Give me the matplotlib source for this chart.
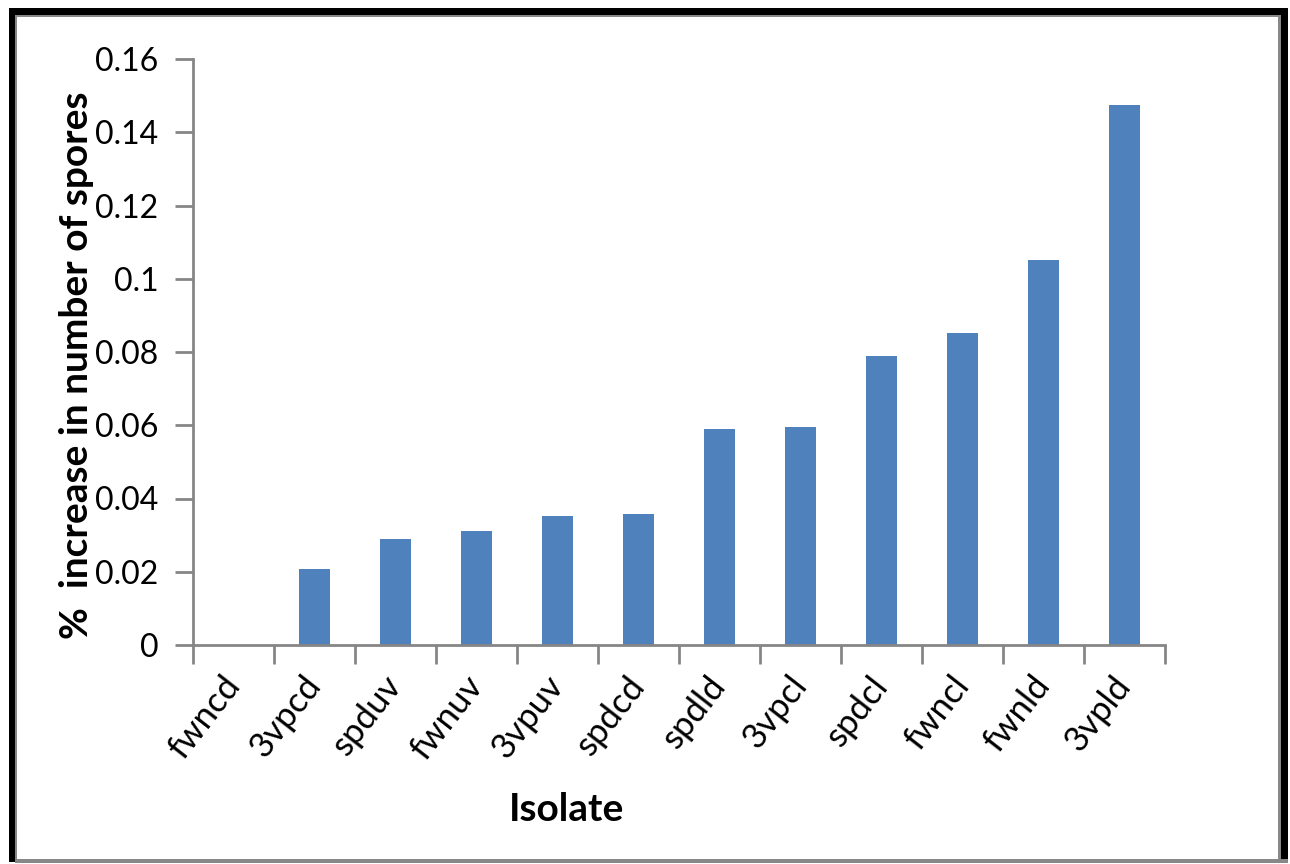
import numpy as np
import matplotlib
matplotlib.use("Agg")
from matplotlib import pyplot as plt
from matplotlib.patches import Rectangle

isolates = ['fwncd', '3vpcd', 'spduv', 'fwnuv', '3vpuv', 'spdcd',
            'spdld', '3vpcl', 'spdcl', 'fwncl', 'fwnld', '3vpld']
increase = [0.0, 0.0207, 0.0289, 0.0311, 0.0352, 0.0358,
            0.0590, 0.0595, 0.0789, 0.0852, 0.1051, 0.1474]
yticks = [0, 0.02, 0.04, 0.06, 0.08, 0.1, 0.12, 0.14, 0.16]
ytick_labels = ['0', '0.02', '0.04', '0.06', '0.08', '0.1', '0.12', '0.14', '0.16']

plt.rcParams['font.family'] = ['Lato', 'DejaVu Sans']
W, H = 1290, 864
fig = plt.figure(figsize=(W / 100, H / 100), dpi=100)
ax = fig.add_axes([193 / W, 1 - 645 / H, (1165 - 193) / W, (645 - 59) / H])

x = np.arange(len(isolates))
ax.bar(x, increase, width=0.39, color='#4F81BD', zorder=2)

ax.set_xlim(-0.5, len(isolates) - 0.5)
ax.set_ylim(0, 0.16)
ax.set_yticks(yticks)
ax.set_yticklabels(ytick_labels, fontsize=23)
ax.set_xticks(x)
ax.set_xticklabels(isolates, rotation=52, ha='right', va='center',
                   rotation_mode='anchor', fontsize=25)
ax.set_xticks(np.arange(-0.5, len(isolates)), minor=True)
ax.tick_params(axis='x', which='major', length=0, pad=25)
ax.tick_params(axis='x', which='minor', length=14, width=2, color='#868686', direction='out')
ax.tick_params(axis='y', length=13, width=2, color='#868686', pad=12, direction='out')

for side in ['top', 'right']:
    ax.spines[side].set_visible(False)
for side in ['left', 'bottom']:
    ax.spines[side].set_color('#868686')
    ax.spines[side].set_linewidth(2)

ax.set_ylabel('%  increase in number of spores', fontsize=28, fontweight='bold')
ax.yaxis.set_label_coords((94 - 193) / 972, (645 - 365) / 586)
ax.set_xlabel('Isolate', fontsize=28, fontweight='bold')
ax.xaxis.set_label_coords((567 - 193) / 972, (645 - 792) / 586)

# outer frame
def px_rect(x0, y0, x1, y1, color):
    fig.add_artist(Rectangle((x0 / W, 1 - y1 / H), (x1 - x0) / W, (y1 - y0) / H,
                             transform=fig.transFigure, color=color, lw=0))

px_rect(9, 8, 1288, 15, 'black')
px_rect(9, 8, 15, 862, 'black')
px_rect(1281, 8, 1288, 862, 'black')
px_rect(15, 15, 1281, 17, '#888888')
px_rect(15, 15, 17, 862, '#888888')
px_rect(1278, 15, 1281, 862, '#888888')
px_rect(15, 859, 1288, 863, '#888888')

fig.savefig('out.png', dpi=100)
